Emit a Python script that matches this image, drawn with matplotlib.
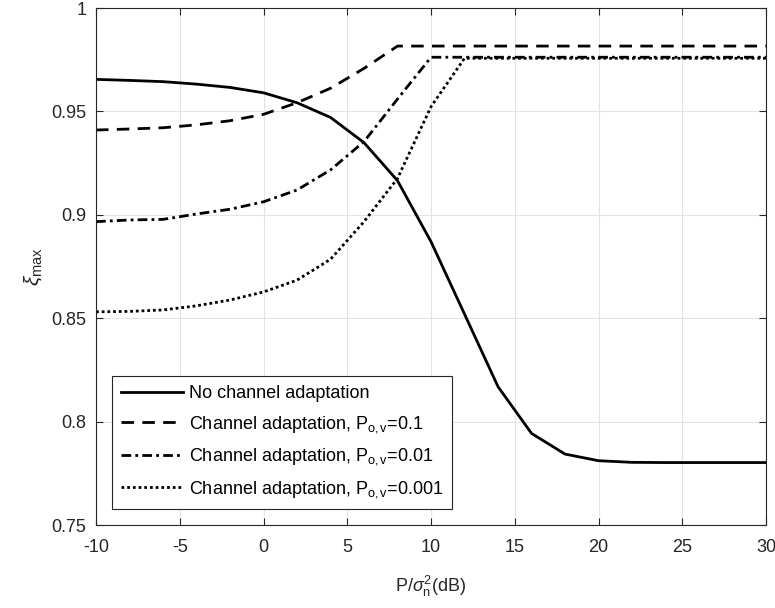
import numpy as np
import matplotlib.pyplot as plt

plt.rcParams['font.family'] = ['Liberation Sans', 'DejaVu Sans']
plt.rcParams['mathtext.fontset'] = 'custom'
plt.rcParams['mathtext.rm'] = 'Liberation Sans'
plt.rcParams['mathtext.it'] = 'Liberation Sans:italic'
plt.rcParams['mathtext.sf'] = 'Liberation Sans'
plt.rcParams['axes.unicode_minus'] = False

# SNR en dB (pasos de 2 dB)
snr_db = np.arange(-10, 31, 2)

# Sin adaptación de canal
xi_sin_adapt = [0.9655, 0.9650, 0.9644, 0.9632, 0.9616, 0.9590, 0.9542, 0.9471,
                0.9349, 0.9165, 0.8870, 0.8520, 0.8169, 0.7943, 0.7843, 0.7811,
                0.7803, 0.7802, 0.7802, 0.7802, 0.7802]

# Adaptación de canal, P_ov = 0.1
xi_p01 = [0.9410, 0.9415, 0.9421, 0.9435, 0.9455, 0.9486, 0.9542, 0.9612,
          0.9708, 0.9816, 0.9816, 0.9816, 0.9816, 0.9816, 0.9816, 0.9816,
          0.9816, 0.9816, 0.9816, 0.9816, 0.9816]

# Adaptación de canal, P_ov = 0.01
xi_p001 = [0.8967, 0.8975, 0.8978, 0.9004, 0.9027, 0.9063, 0.9120, 0.9217,
           0.9354, 0.9560, 0.9762, 0.9762, 0.9762, 0.9762, 0.9762, 0.9762,
           0.9762, 0.9762, 0.9762, 0.9762, 0.9762]

# Adaptación de canal, P_ov = 0.001
xi_p0001 = [0.8531, 0.8533, 0.8540, 0.8560, 0.8588, 0.8627, 0.8684, 0.8785,
            0.8967, 0.9176, 0.9523, 0.9757, 0.9757, 0.9757, 0.9757, 0.9757,
            0.9757, 0.9757, 0.9757, 0.9757, 0.9757]

etiquetas = ['No channel adaptation',
             r'Channel adaptation, P$_{\mathrm{o,v}}$=0.1',
             r'Channel adaptation, P$_{\mathrm{o,v}}$=0.01',
             r'Channel adaptation, P$_{\mathrm{o,v}}$=0.001']

fig = plt.figure(figsize=(7.75, 6.08), dpi=100)
ax = fig.add_axes([0.1239, 0.1365, 0.8645, 0.8503])

lw = 2.0
ax.plot(snr_db, xi_sin_adapt, color='k', lw=lw, linestyle='-', label=etiquetas[0])
ax.plot(snr_db, xi_p01, color='k', lw=lw, linestyle=(0, (4.5, 3)), label=etiquetas[1])
ax.plot(snr_db, xi_p001, color='k', lw=lw, linestyle=(0, (3.5, 1.5, 1, 1.5)), label=etiquetas[2])
ax.plot(snr_db, xi_p0001, color='k', lw=lw, linestyle=(0, (1, 1.05)), label=etiquetas[3])

ax.set_xlim(-10, 30)
ax.set_ylim(0.75, 1)
ax.set_xticks(np.arange(-10, 31, 5))
ax.set_yticks([0.75, 0.8, 0.85, 0.9, 0.95, 1])
ax.set_yticklabels(['0.75', '0.8', '0.85', '0.9', '0.95', '1'])

ax.grid(True, color='#e3e3e3', linewidth=0.8)
ax.set_axisbelow(True)
for s in ax.spines.values():
    s.set_color('#262626')
    s.set_linewidth(0.8)
ax.tick_params(direction='in', top=True, right=True, length=5, width=0.8,
               color='#262626', labelsize=13, labelcolor='#262626')
ax.tick_params(axis='x', pad=10)
ax.tick_params(axis='y', pad=7)

ax.set_xlabel(r'P/$\sigma_\mathrm{n}^2$(dB)', fontsize=13, color='#262626', labelpad=13)
ax.set_ylabel(r'$\xi_{\mathrm{max}}$', fontsize=15, color='#262626', labelpad=5)

leg = ax.legend(loc='lower left', bbox_to_anchor=(112 / 775, 99 / 608),
                bbox_transform=fig.transFigure, fontsize=13, handlelength=3.45,
                handletextpad=0.3, borderaxespad=0, borderpad=0.5,
                labelspacing=0.65, fancybox=False, framealpha=1, edgecolor='#262626')
leg.get_frame().set_linewidth(0.8)

plt.savefig('out.png', dpi=100)
